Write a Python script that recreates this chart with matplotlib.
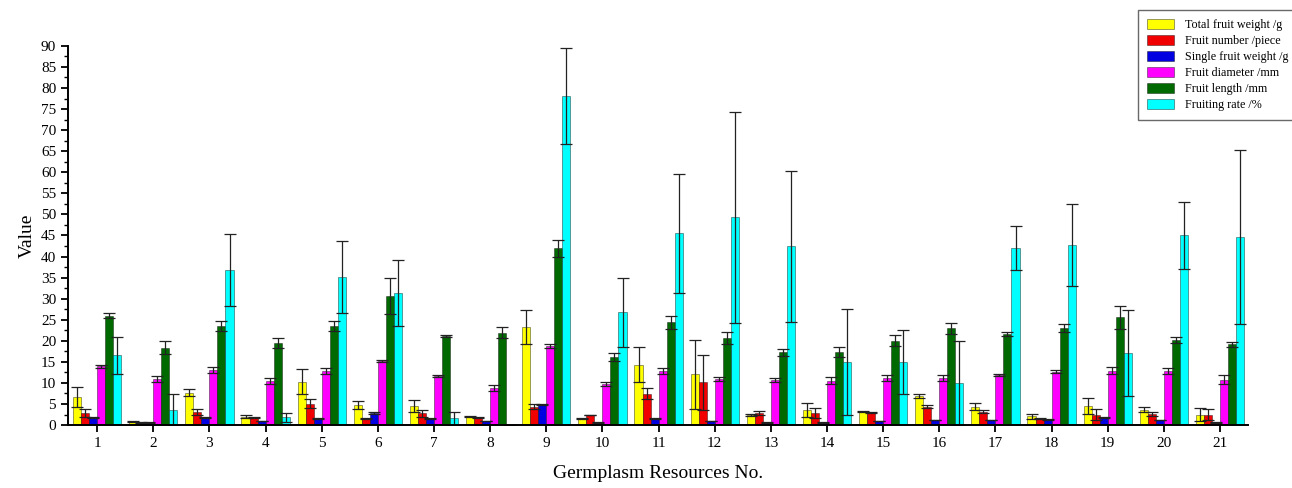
import numpy as np
import matplotlib
matplotlib.use("Agg")
import matplotlib.pyplot as plt
from matplotlib.ticker import MultipleLocator

plt.rcParams['font.family'] = ['Liberation Serif', 'DejaVu Serif']

groups = [str(i) for i in range(1, 22)]
series = ['Total fruit weight /g', 'Fruit number /piece', 'Single fruit weight /g',
          'Fruit diameter /mm', 'Fruit length /mm', 'Fruiting rate /%']
colors = ['#FFFF00', '#F00000', '#0000E0', '#FF00FF', '#006A00', '#00FFFF']

total_weight = [6.7, 0.8, 7.7, 2.0, 10.3, 4.8, 4.5, 2.1, 23.2, 1.6, 14.3,
                12.1, 2.4, 3.6, 3.2, 6.9, 4.4, 2.1, 4.6, 3.6, 2.5]
total_weight_err = [2.4, 0.1, 0.8, 0.3, 3.0, 0.9, 1.4, 0.1, 4.0, 0.1, 4.2,
                    8.2, 0.2, 1.6, 0.1, 0.5, 0.8, 0.6, 1.9, 0.6, 1.6]
fruit_number = [2.9, 0.7, 3.1, 1.7, 5.1, 1.6, 2.8, 1.8, 4.4, 2.4, 7.4,
                10.1, 2.8, 2.8, 3.0, 4.4, 3.2, 1.5, 2.5, 2.6, 2.5]
fruit_number_err = [1.0, 0.1, 0.6, 0.1, 1.0, 0.1, 0.8, 0.1, 0.7, 0.1, 1.3,
                    6.5, 0.5, 1.2, 0.1, 0.3, 0.3, 0.1, 1.3, 0.5, 1.2]
single_weight = [1.8, 0.6, 1.7, 0.9, 1.5, 2.9, 1.6, 0.9, 4.9, 0.6, 1.6,
                 0.95, 0.6, 0.6, 0.95, 1.2, 1.2, 1.4, 1.7, 1.2, 0.6]
single_weight_err = [0.2, 0.05, 0.1, 0.05, 0.1, 0.3, 0.1, 0.05, 0.2, 0.05, 0.1,
                     0.05, 0.05, 0.05, 0.05, 0.05, 0.05, 0.1, 0.1, 0.1, 0.05]
diameter = [13.9, 10.9, 13.1, 10.5, 12.8, 15.2, 11.6, 8.8, 18.8, 9.7, 12.8,
            10.9, 10.7, 10.5, 11.1, 11.1, 11.9, 12.7, 12.9, 12.8, 10.8]
diameter_err = [0.4, 0.7, 0.7, 0.7, 0.8, 0.2, 0.2, 0.7, 0.5, 0.5, 0.8,
                0.4, 0.5, 0.8, 0.7, 0.7, 0.3, 0.3, 0.9, 0.8, 1.0]
length = [26.0, 18.4, 23.6, 19.4, 23.6, 30.6, 21.1, 21.9, 42.0, 16.2, 24.4,
          20.7, 17.3, 17.4, 20.0, 23.0, 21.6, 23.0, 25.6, 20.2, 19.2]
length_err = [0.5, 1.6, 1.2, 1.2, 1.2, 4.2, 0.3, 1.3, 2.0, 1.0, 1.6,
              1.4, 0.8, 1.2, 1.3, 1.3, 0.5, 0.9, 2.7, 0.8, 0.6]
fruiting_rate = [16.6, 3.6, 36.8, 1.8, 35.2, 31.3, 1.6, 0.0, 78.0, 26.8, 45.5,
                 49.3, 42.4, 15.0, 14.9, 9.9, 42.0, 42.8, 17.2, 45.0, 44.6]
fruiting_rate_err = [4.4, 3.7, 8.6, 1.0, 8.6, 7.9, 1.5, 0.0, 11.4, 8.2, 14.1,
                     25.1, 18.0, 12.6, 7.6, 10.0, 5.3, 9.7, 10.2, 7.9, 20.7]

values = [total_weight, fruit_number, single_weight, diameter, length, fruiting_rate]
errors = [total_weight_err, fruit_number_err, single_weight_err,
          diameter_err, length_err, fruiting_rate_err]

fig = plt.figure(figsize=(12.92, 4.88), dpi=100)
ax = fig.add_axes([0.0526, 0.129, 0.9134, 0.777])

x = np.arange(1, len(groups) + 1)
w = 0.143
for i in range(len(series)):
    pos = x + (i - 2.5) * w
    ax.bar(pos, values[i], w, color=colors[i], edgecolor=(0, 0, 0, 0.55),
           linewidth=0.5, label=series[i])
    ax.errorbar(pos, values[i], yerr=errors[i], fmt='none', ecolor='#222222',
                elinewidth=0.9, capsize=4, capthick=0.9)

ax.set_xlim(0.48, 21.5)
ax.set_ylim(0, 90)
ax.set_xticks(x)
ax.set_xticklabels(groups)
ax.yaxis.set_major_locator(MultipleLocator(5))
ax.yaxis.set_minor_locator(MultipleLocator(2.5))
ax.tick_params(axis='both', which='major', direction='out', length=5, width=1.3,
               labelsize=11)
ax.tick_params(axis='y', which='minor', direction='out', length=3, width=1.0)
for s in ['top', 'right']:
    ax.spines[s].set_visible(False)
for s in ['left', 'bottom']:
    ax.spines[s].set_linewidth(1.4)

ax.set_ylabel('Value', fontsize=14)
ax.set_xlabel('Germplasm Resources No.', fontsize=14, labelpad=11)

leg = fig.legend(loc='upper right', bbox_to_anchor=(1.004, 0.98), fontsize=8.7,
                 frameon=True, fancybox=False, edgecolor='#444444',
                 handlelength=2.2, handleheight=0.95, labelspacing=0.3,
                 borderpad=0.75, handletextpad=0.9, borderaxespad=0)
leg.get_frame().set_linewidth(1.0)

fig.savefig('out.png', dpi=100)
